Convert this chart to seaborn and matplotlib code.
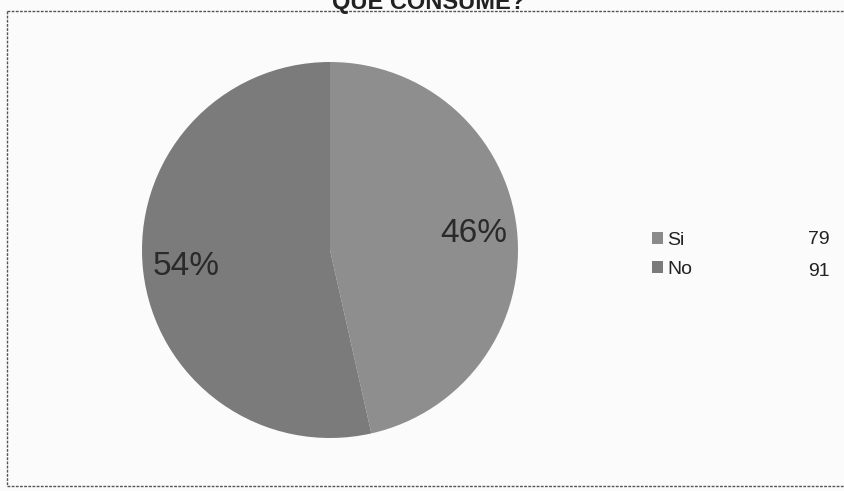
import matplotlib
matplotlib.use("Agg")
import matplotlib.pyplot as plt
import seaborn as sns
from matplotlib.patches import Patch
from matplotlib.lines import Line2D

categories = ["Si", "No"]
values = [79, 91]
title = "QUE CONSUME?"

sns.set_theme(style="white")
plt.rcParams["font.family"] = ["Liberation Sans", "DejaVu Sans"]

colors = ["#8e8e8e", "#7b7b7b"]
legend_colors = ["#8a8a8a", "#7a7a7a"]

W, H = 844, 491
fig = plt.figure(figsize=(W / 100, H / 100), dpi=100)
fig.patch.set_facecolor("#fbfbfb")

# frame (left, top, bottom edges)
for (x0, y0, x1, y1) in [(7, 11, 7, 486), (7, 11, 850, 11), (7, 486, 850, 486)]:
    fig.add_artist(Line2D([x0 / W, x1 / W], [1 - y0 / H, 1 - y1 / H],
                          color="#555555", lw=1.0, ls=(0, (2, 1))))

cx, cy, r = 330, 250, 188
ax = fig.add_axes([(cx - r) / W, 1 - (cy + r) / H, 2 * r / W, 2 * r / H])
ax.set_facecolor("none")

wedges, texts, autotexts = ax.pie(
    values, colors=colors, startangle=90, counterclock=False,
    autopct=lambda p: f"{p:.0f}%", pctdistance=0.77,
    wedgeprops=dict(linewidth=0),
    textprops=dict(fontsize=24, color="#2a2a2a"),
)
ax.set_aspect("equal")
ax.set_xlim(-1, 1)
ax.set_ylim(-1, 1)

fig.text(0.508, 1 - 2 / H, title, ha="center", va="center", fontsize=17,
         fontweight="bold", color="#222222")

handles = [Patch(facecolor=c, edgecolor="none") for c in legend_colors]
leg = fig.legend(handles, categories, loc="center left",
                 bbox_to_anchor=(652 / W, 1 - 255 / H), frameon=False,
                 fontsize=14, handlelength=0.55, handleheight=0.55,
                 handletextpad=0.25, labelspacing=0.6, borderpad=0,
                 borderaxespad=0)
for t in leg.get_texts():
    t.set_color("#222222")

row_y = [240, 271]
for v, y in zip(values, row_y):
    fig.text(830 / W, 1 - y / H, str(v), ha="right", va="center",
             fontsize=14, color="#222222")

fig.savefig("out.png", dpi=100, facecolor=fig.get_facecolor())
